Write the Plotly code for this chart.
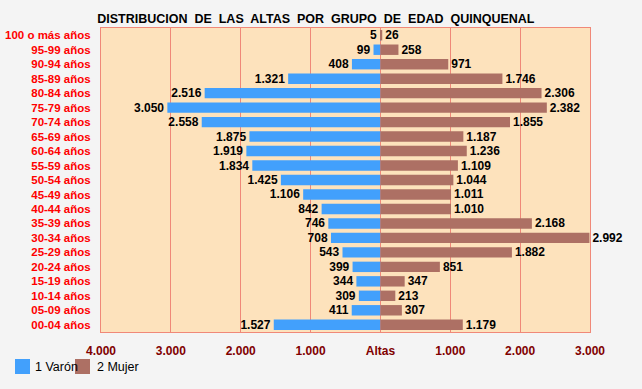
import plotly.graph_objects as go

categories = ["100 o más años", "95-99 años", "90-94 años", "85-89 años", "80-84 años",
              "75-79 años", "70-74 años", "65-69 años", "60-64 años", "55-59 años",
              "50-54 años", "45-49 años", "40-44 años", "35-39 años", "30-34 años",
              "25-29 años", "20-24 años", "15-19 años", "10-14 años", "05-09 años",
              "00-04 años"]
varon = [5, 99, 408, 1321, 2516, 3050, 2558, 1875, 1919, 1834, 1425, 1106, 842, 746,
         708, 543, 399, 344, 309, 411, 1527]
mujer = [26, 258, 971, 1746, 2306, 2382, 1855, 1187, 1236, 1109, 1044, 1011, 1010, 2168,
         2992, 1882, 851, 347, 213, 307, 1179]
tick_vals = [-4000, -3000, -2000, -1000, 0, 1000, 2000, 3000]
tick_text = ["4.000", "3.000", "2.000", "1.000", "Altas", "1.000", "2.000", "3.000"]
series_names = ["1 Varón", "2 Mujer"]
series_colors = ["#42a0fc", "#ad7064"]


def fmt(v):
    return f"{v:,}".replace(",", ".")


FONT = "Liberation Sans, Arial, sans-serif"
fig = go.Figure()
fig.add_trace(go.Bar(
    y=categories, x=[-v for v in varon], orientation="h", name=series_names[0],
    marker=dict(color=series_colors[0], line=dict(width=0)),
    text=[f"<b>{fmt(v)}</b>" for v in varon], textposition="outside",
    textfont=dict(family=FONT, size=12, color="black"), cliponaxis=False,
    constraintext="none", textangle=0,
    width=0.72, hoverinfo="skip"))
fig.add_trace(go.Bar(
    y=categories, x=mujer, orientation="h", name=series_names[1],
    marker=dict(color=series_colors[1], line=dict(width=0)),
    text=[f"<b>{fmt(v)}</b>" for v in mujer], textposition="outside",
    textfont=dict(family=FONT, size=12, color="black"), cliponaxis=False,
    constraintext="none", textangle=0,
    width=0.72, hoverinfo="skip"))

# plot area in pixels: x 101..590, y 28..332
PW, PH = 489.0, 304.0


def px_x(p):
    return (p - 101) / PW


def px_y(p):
    return (332 - p) / PH


# manual legend (squares + labels) matching the reference position
leg_sq_x = [15, 75]
leg_tx_x = [33, 95]
for i in range(2):
    fig.add_shape(type="rect", xref="paper", yref="paper",
                  x0=px_x(leg_sq_x[i]), x1=px_x(leg_sq_x[i] + 15),
                  y0=px_y(374), y1=px_y(359),
                  fillcolor=series_colors[i], line=dict(width=0))
    fig.add_annotation(xref="paper", yref="paper", x=px_x(leg_tx_x[i]), y=px_y(366.5),
                       xanchor="left", yanchor="middle", showarrow=False,
                       text=series_names[i], font=dict(family=FONT, size=12.5, color="black"))

fig.update_layout(
    width=642, height=389,
    margin=dict(l=101, r=52, t=28, b=57),
    paper_bgcolor="#f4f4f4", plot_bgcolor="#fde2bc",
    barmode="overlay",
    font=dict(family=FONT, size=11, color="black"),
    title=dict(text="<b>DISTRIBUCION  DE  LAS  ALTAS  POR  GRUPO  DE  EDAD  QUINQUENAL</b>",
               x=0.492, xanchor="center", y=0.953, yanchor="middle",
               font=dict(family=FONT, size=12.5, color="black")),
    xaxis=dict(range=[-4000, 3000], tickvals=tick_vals, ticktext=[f"<b>{t}</b>" for t in tick_text],
               tickfont=dict(family=FONT, size=12, color="#800000"),
               showgrid=True, gridcolor="#f08878", gridwidth=1,
               zeroline=True, zerolinecolor="#f08878", zerolinewidth=1,
               showline=True, linecolor="#f08878", linewidth=1, mirror=True,
               ticks="", ticklabelstandoff=8, fixedrange=True, automargin=False),
    yaxis=dict(autorange="reversed", tickfont=dict(family=FONT, size=11.5, color="#ff0000"),
               ticktext=[f"<b>{c}</b>" for c in categories], tickvals=categories,
               showgrid=False, showline=True, linecolor="#f08878", linewidth=1, mirror=True,
               ticks="", ticklabelstandoff=7, fixedrange=True, automargin=False),
    showlegend=False,
)
fig.write_html("out.html", config={"displayModeBar": False},
               post_script="document.body.style.margin='0';document.body.style.overflow='hidden';")
